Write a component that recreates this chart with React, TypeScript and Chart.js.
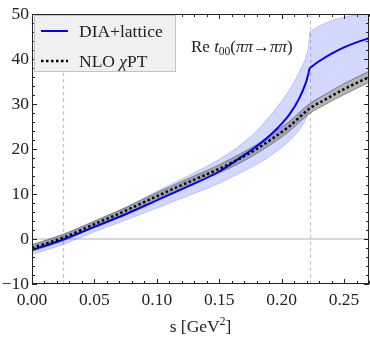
import React, { useEffect, useRef } from "react";
import { Chart, registerables } from "chart.js";

Chart.register(...registerables);

// ---- data ----
// DIA+lattice, below the threshold
const sBlueBelow = [0, 0.025, 0.05, 0.075, 0.1, 0.125, 0.15, 0.166, 0.18, 0.1925, 0.206, 0.214, 0.2195, 0.2215, 0.2225];
const blueCentralBelow = [-2.4, -0.1, 2.7, 5.5, 8.6, 11.7, 15.0, 17.9, 20.6, 23.5, 27.6, 31.2, 34.8, 36.8, 38.0];
const blueUpperBelow = [-1.3, 1.1, 3.9, 7.0, 10.6, 14.0, 17.7, 20.7, 24.0, 28.0, 33.0, 37.0, 40.5, 42.8, 46.0];
const blueLowerBelow = [-3.4, -1.2, 1.6, 4.2, 6.9, 9.6, 12.4, 14.6, 16.6, 18.8, 21.8, 24.2, 26.8, 28.3, 29.6];
// DIA+lattice, above the threshold
const sBlueAbove = [0.2225, 0.23, 0.24, 0.25, 0.26, 0.27];
const blueCentralAbove = [38.0, 39.5, 41.2, 42.6, 43.7, 44.6];
const blueUpperAbove = [46.0, 47.3, 48.5, 49.3, 49.8, 50.2];
const blueLowerAbove = [29.6, 31.3, 33.0, 34.6, 36.0, 37.3];

// NLO ChPT
const sChpt = [0, 0.025, 0.05, 0.075, 0.1, 0.125, 0.15, 0.166, 0.18, 0.1925, 0.206, 0.2225, 0.235, 0.25, 0.27];
const chptCentral = [-2.0, 0.3, 3.3, 6.3, 9.5, 12.6, 15.6, 17.8, 20.0, 22.3, 25.0, 29.0, 31.0, 33.3, 36.0];
const chptUpper = [-1.3, 1.0, 4.0, 7.0, 10.3, 13.4, 16.5, 18.8, 21.0, 23.4, 26.1, 30.1, 32.1, 34.5, 37.2];
const chptLower = [-2.7, -0.4, 2.6, 5.6, 8.7, 11.8, 14.7, 16.8, 19.0, 21.2, 23.9, 27.9, 29.9, 32.1, 34.8];

const xTicks = [0, 0.05, 0.1, 0.15, 0.2, 0.25];
const yTicks = [-10, 0, 10, 20, 30, 40, 50];
const xRange = [0, 0.27];
const yRange = [-10, 50];
const xMinorStep = 0.01;
const yMinorStep = 2;
const adlerZero = 0.0245;
const threshold = 0.2225;
const legendLabels = ["DIA+lattice", "NLO χPT"];

const FONT = "'Liberation Serif', 'DejaVu Serif', serif";
const TEXT = "#222";

type Part = { t: string; italic?: boolean; size?: number; dy?: number };

function drawRich(ctx: CanvasRenderingContext2D, parts: Part[], x: number, y: number, base: number, align: "left" | "center" = "left") {
  const measure = () => {
    let w = 0;
    for (const p of parts) {
      ctx.font = `${p.italic ? "italic " : ""}${p.size ?? base}px ${FONT}`;
      w += ctx.measureText(p.t).width;
    }
    return w;
  };
  let cx = align === "center" ? x - measure() / 2 : x;
  for (const p of parts) {
    ctx.font = `${p.italic ? "italic " : ""}${p.size ?? base}px ${FONT}`;
    ctx.fillText(p.t, cx, y + (p.dy ?? 0));
    cx += ctx.measureText(p.t).width;
  }
}

const decorPlugin = {
  id: "decor",
  beforeDatasetsDraw(chart: any) {
    const { ctx, chartArea: a, scales } = chart;
    const xs = scales.x, ys = scales.y;
    ctx.save();
    ctx.beginPath();
    ctx.rect(a.left, a.top, a.right - a.left, a.bottom - a.top);
    ctx.clip();
    ctx.strokeStyle = "#cccccc";
    ctx.lineWidth = 1.6;
    const y0 = ys.getPixelForValue(0);
    ctx.beginPath();
    ctx.moveTo(a.left, y0);
    ctx.lineTo(a.right, y0);
    ctx.stroke();
    ctx.strokeStyle = "#c4c4c4";
    ctx.lineWidth = 1.2;
    ctx.setLineDash([3.5, 3]);
    for (const v of [adlerZero, threshold]) {
      const px = Math.round(xs.getPixelForValue(v)) + 0.5;
      ctx.beginPath();
      ctx.moveTo(px, a.top);
      ctx.lineTo(px, a.bottom);
      ctx.stroke();
    }
    ctx.restore();
  },
  afterDatasetsDraw(chart: any) {
    const { ctx, chartArea: a, scales } = chart;
    const xs = scales.x, ys = scales.y;
    ctx.save();
    ctx.strokeStyle = "#222";
    ctx.lineWidth = 1;
    ctx.strokeRect(a.left + 0.5, a.top + 0.5, a.right - a.left - 1, a.bottom - a.top - 1);
    ctx.beginPath();
    const nx = Math.round((xRange[1] - xRange[0]) / xMinorStep);
    for (let k = 0; k <= nx; k++) {
      const v = xRange[0] + k * xMinorStep;
      const major = xTicks.some((t) => Math.abs(t - v) < 1e-9);
      const len = major ? 5 : 3;
      const px = Math.round(xs.getPixelForValue(v)) + 0.5;
      ctx.moveTo(px, a.bottom);
      ctx.lineTo(px, a.bottom - len);
      ctx.moveTo(px, a.top);
      ctx.lineTo(px, a.top + len);
    }
    for (let v = yRange[0]; v <= yRange[1] + 1e-9; v += yMinorStep) {
      const major = yTicks.includes(v);
      const len = major ? 5 : 3;
      const py = Math.round(ys.getPixelForValue(v)) + 0.5;
      ctx.moveTo(a.left, py);
      ctx.lineTo(a.left + len, py);
      ctx.moveTo(a.right, py);
      ctx.lineTo(a.right - len, py);
    }
    ctx.stroke();

    // legend box
    const bx = 34, by = 15, bw = 142, bh = 57;
    ctx.fillStyle = "#f0f0f0";
    ctx.fillRect(bx, by, bw, bh);
    ctx.strokeStyle = "#c4c4c4";
    ctx.lineWidth = 1;
    ctx.strokeRect(bx + 0.5, by + 0.5, bw - 1, bh - 1);
    ctx.strokeStyle = "#0000ff";
    ctx.lineWidth = 2;
    ctx.beginPath();
    ctx.moveTo(41, 31);
    ctx.lineTo(68, 31);
    ctx.stroke();
    ctx.strokeStyle = "#000";
    ctx.lineWidth = 2.5;
    ctx.setLineDash([2.5, 2.5]);
    ctx.beginPath();
    ctx.moveTo(41, 61);
    ctx.lineTo(68, 61);
    ctx.stroke();
    ctx.setLineDash([]);
    ctx.fillStyle = TEXT;
    ctx.textBaseline = "alphabetic";
    ctx.textAlign = "left";
    drawRich(ctx, [{ t: legendLabels[0] }], 79, 36.5, 17.5);
    const nlo = legendLabels[1].split("χ");
    drawRich(ctx, [{ t: nlo[0] }, { t: "χ", italic: true }, { t: nlo[1] }], 79, 66.5, 17.5);

    drawRich(
      ctx,
      [
        { t: "Re " },
        { t: "t", italic: true },
        { t: "00", size: 11.5, dy: 3.5 },
        { t: "(" },
        { t: "ππ", italic: true },
        { t: "→" },
        { t: "ππ", italic: true },
        { t: ")" },
      ],
      191,
      51.5,
      17
    );

    drawRich(
      ctx,
      [{ t: "s [GeV" }, { t: "2", size: 11.5, dy: -7 }, { t: "]" }],
      (a.left + a.right) / 2,
      332,
      17.5,
      "center"
    );
    ctx.restore();
  },
};

export default function App() {
  const ref = useRef<HTMLCanvasElement | null>(null);
  useEffect(() => {
    document.body.style.margin = "0";
    const canvas = ref.current;
    if (!canvas) return;
    const pts = (xs: number[], ys: number[]) => xs.map((x, i) => ({ x, y: ys[i] }));
    const common = { pointRadius: 0, pointHoverRadius: 0, cubicInterpolationMode: "monotone" as const };
    const blueEdge = "rgba(120,140,255,0.55)";
    const blueFill = "rgba(30,60,255,0.2)";
    const chart = new Chart(canvas, {
      type: "line",
      data: {
        datasets: [
          { ...common, label: "DIA upper <", data: pts(sBlueBelow, blueUpperBelow), borderColor: blueEdge, borderWidth: 0.8, backgroundColor: blueFill, fill: "+1", order: 8 },
          { ...common, label: "DIA lower <", data: pts(sBlueBelow, blueLowerBelow), borderColor: blueEdge, borderWidth: 0.8, fill: false, order: 7 },
          { ...common, label: "DIA upper >", data: pts(sBlueAbove, blueUpperAbove), borderColor: blueEdge, borderWidth: 0.8, backgroundColor: blueFill, fill: "+1", order: 6 },
          { ...common, label: "DIA lower >", data: pts(sBlueAbove, blueLowerAbove), borderColor: blueEdge, borderWidth: 0.8, fill: false, order: 5 },
          { ...common, label: "ChPT upper", data: pts(sChpt, chptUpper), borderColor: "rgba(90,90,90,0.8)", borderWidth: 0.8, backgroundColor: "rgba(120,120,120,0.55)", fill: "+1", order: 4 },
          { ...common, label: "ChPT lower", data: pts(sChpt, chptLower), borderColor: "rgba(90,90,90,0.8)", borderWidth: 0.8, fill: false, order: 3 },
          { ...common, label: legendLabels[0], data: pts(sBlueBelow, blueCentralBelow), borderColor: "#0000ff", borderWidth: 2, fill: false, order: 2 },
          { ...common, label: legendLabels[0] + " >", data: pts(sBlueAbove, blueCentralAbove), borderColor: "#0000ff", borderWidth: 2, fill: false, order: 1 },
          { ...common, label: legendLabels[1], data: pts(sChpt, chptCentral), borderColor: "#000000", borderWidth: 2.5, borderDash: [2.5, 2.5], fill: false, order: 0 },
        ],
      },
      options: {
        animation: false,
        responsive: false,
        maintainAspectRatio: false,
        layout: { padding: { top: 14, right: 1, left: 0, bottom: 0 } },
        plugins: { legend: { display: false }, tooltip: { enabled: false }, title: { display: false } },
        scales: {
          x: {
            type: "linear",
            min: xRange[0],
            max: xRange[1],
            grid: { display: false, drawTicks: false },
            border: { display: false },
            afterBuildTicks: (s: any) => {
              s.ticks = xTicks.map((v) => ({ value: v }));
            },
            afterFit: (s: any) => {
              s.height = 56;
            },
            ticks: {
              font: { family: FONT, size: 17.5 },
              color: TEXT,
              padding: 6,
              maxRotation: 0,
              autoSkip: false,
              callback: (v: any) => Number(v).toFixed(2),
            },
          },
          y: {
            type: "linear",
            min: yRange[0],
            max: yRange[1],
            grid: { display: false, drawTicks: false },
            border: { display: false },
            afterBuildTicks: (s: any) => {
              s.ticks = yTicks.map((v) => ({ value: v }));
            },
            afterFit: (s: any) => {
              s.width = 32;
            },
            ticks: {
              font: { family: FONT, size: 17.5 },
              color: TEXT,
              padding: 3,
              autoSkip: false,
              callback: (v: any) => (Number(v) < 0 ? "−" + Math.abs(Number(v)) : String(v)),
            },
          },
        },
      },
      plugins: [decorPlugin],
    });
    return () => chart.destroy();
  }, []);
  return (
    <div style={{ width: 370, height: 340 }}>
      <canvas ref={ref} width={370} height={340} style={{ display: "block" }} />
    </div>
  );
}
